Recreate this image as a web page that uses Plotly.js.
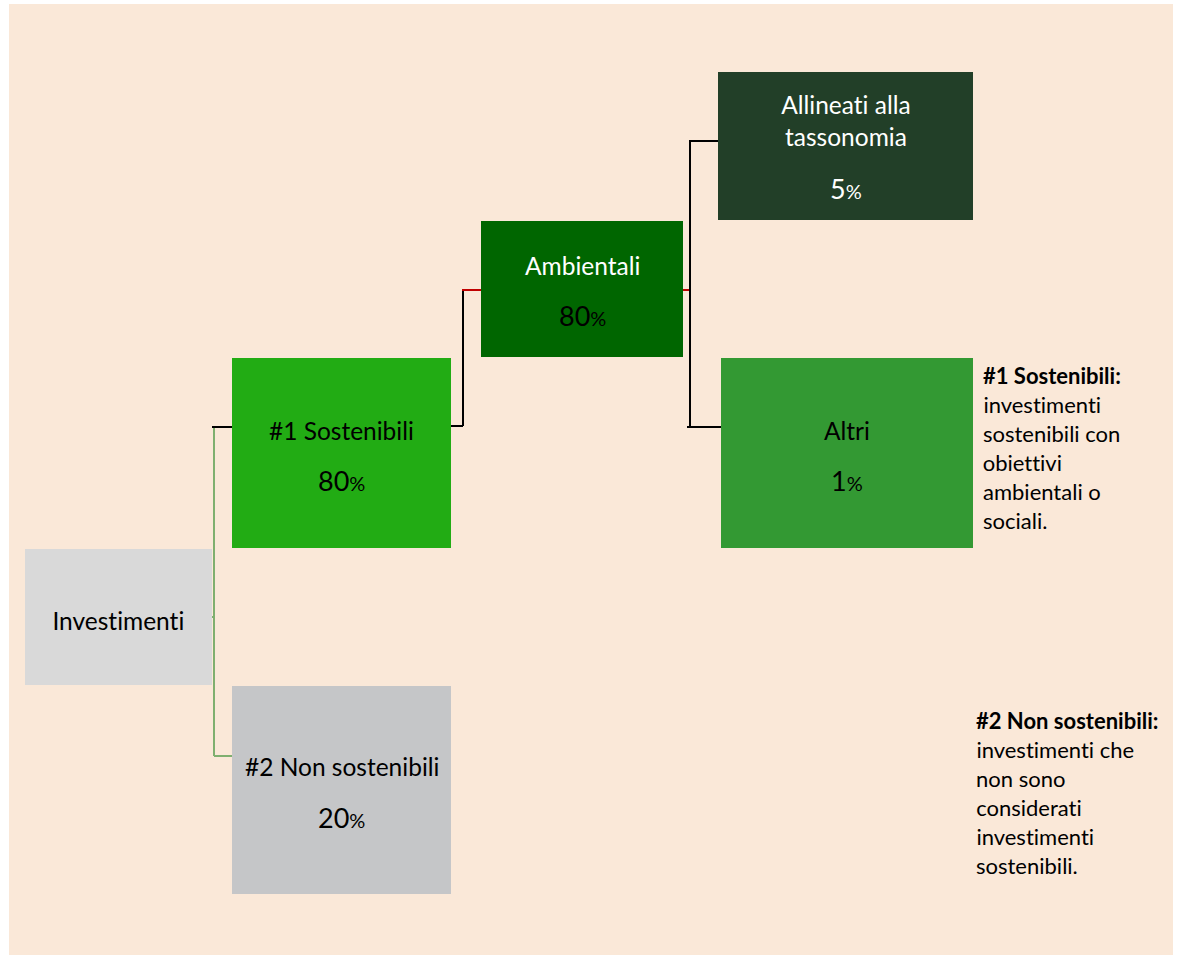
<!DOCTYPE html>
<html>
<head>
<meta charset="utf-8">
<script src="https://cdn.plot.ly/plotly-3.0.1.min.js"></script>
<style>
html,body{margin:0;padding:0;background:#ffffff;}
#chart{width:1178px;height:955px;}
#chart text{font-variant-ligatures:none !important; font-feature-settings:"liga" 0, "clig" 0;}
</style>
</head>
<body>
<div id="chart"></div>
<script>
// ---- data ----
var nodeNames = ["Investimenti", "#1 Sostenibili", "#2 Non sostenibili", "Ambientali", "Allineati alla<br>tassonomia", "Altri"];
var nodeValues = [null, 80, 20, 80, 5, 1];
var nodeParents = [null, 0, 0, 1, 3, 3];
var noteTitles = ["#1 Sostenibili:", "#2 Non sostenibili:"];
var noteLines = [
  ["investimenti", "sostenibili con", "obiettivi", "ambientali o", "sociali."],
  ["investimenti che", "non sono", "considerati", "investimenti", "sostenibili."]
];

// ---- layout / style (pixel geometry) ----
var boxes = [
  {x0:25,  x1:212, y0:549, y1:685, fill:"#d9d9d9", lab:"#000000", pct:"#000000", ly:620, py:null},
  {x0:232, x1:451, y0:358, y1:548, fill:"#22ac14", lab:"#000000", pct:"#000000", ly:430, py:480},
  {x0:232, x1:451, y0:686, y1:894, fill:"#c5c6c8", lab:"#000000", pct:"#000000", ly:766, py:817},
  {x0:481, x1:683, y0:221, y1:357, fill:"#006600", lab:"#ffffff", pct:"#000000", ly:265, py:315},
  {x0:718, x1:973, y0:72,  y1:220, fill:"#223f28", lab:"#ffffff", pct:"#ffffff", ly:120, py:188},
  {x0:721, x1:973, y0:358, y1:548, fill:"#339933", lab:"#000000", pct:"#000000", ly:430, py:480}
];
var notePos = [{x:981, y:375}, {x:974, y:720}];
var noteStep = 29;

var shapes = [];
var annotations = [];
// background panel
shapes.push({type:"rect", xref:"x", yref:"y", x0:9, x1:1173, y0:4, y1:955, fillcolor:"#fae8d8", line:{width:0}, layer:"below"});

// connectors
function seg(x0,y0,x1,y1,c,w){shapes.push({type:"line",xref:"x",yref:"y",x0:x0,y0:y0,x1:x1,y1:y1,line:{color:c,width:w||2}});}
seg(214,427,214,756,"#7faf6f",2);
seg(212,617,214,617,"#7faf6f",2);
seg(214,756,232,756,"#7faf6f",2);
seg(212,427,232,427,"#000000",2);
seg(451,426,463,426,"#000000",2);
seg(463,426,463,290,"#000000",2);
seg(462,290,481,290,"#c00000",2);
seg(683,290,691,290,"#c00000",2);
seg(690,141,690,427,"#000000",2);
seg(689,141,718,141,"#000000",2);
seg(687,427,721,427,"#000000",2);

var font = "Lato, 'Open Sans', sans-serif";
for (var i = 0; i < boxes.length; i++) {
  var b = boxes[i];
  shapes.push({type:"rect", xref:"x", yref:"y", x0:b.x0, x1:b.x1, y0:b.y0, y1:b.y1, fillcolor:b.fill, line:{width:0}});
  var cx = (b.x0 + b.x1) / 2;
  annotations.push({x:cx, y:b.ly, xref:"x", yref:"y", text:nodeNames[i], showarrow:false,
    font:{family:font, size:24.5, color:b.lab}, xanchor:"center", yanchor:"middle"});
  if (nodeValues[i] !== null) {
    annotations.push({x:cx, y:b.py, xref:"x", yref:"y",
      text:nodeValues[i] + '<span style="font-size:20px">%</span>', showarrow:false,
      font:{family:font, size:27, color:b.pct}, xanchor:"center", yanchor:"middle"});
  }
}

for (var n = 0; n < noteTitles.length; n++) {
  var p = notePos[n];
  annotations.push({x:p.x, y:p.y, xref:"x", yref:"y", text:"<b>" + noteTitles[n] + "</b>", showarrow:false,
    font:{family:font, size:22, color:"#000000"}, xanchor:"left", yanchor:"middle"});
  for (var k = 0; k < noteLines[n].length; k++) {
    annotations.push({x:p.x, y:p.y + noteStep * (k + 1), xref:"x", yref:"y", text:noteLines[n][k], showarrow:false,
      font:{family:font, size:22, color:"#000000"}, xanchor:"left", yanchor:"middle"});
  }
}

var layout = {
  width:1178, height:955,
  margin:{l:0, r:0, t:0, b:0},
  paper_bgcolor:"#ffffff", plot_bgcolor:"#ffffff",
  xaxis:{range:[0,1178], visible:false, fixedrange:true},
  yaxis:{range:[955,0], visible:false, fixedrange:true},
  shapes:shapes, annotations:annotations, showlegend:false
};
Plotly.newPlot("chart", [{x:[], y:[], type:"scatter", mode:"markers", hoverinfo:"skip"}], layout, {staticPlot:true, displayModeBar:false});
</script>
</body>
</html>
